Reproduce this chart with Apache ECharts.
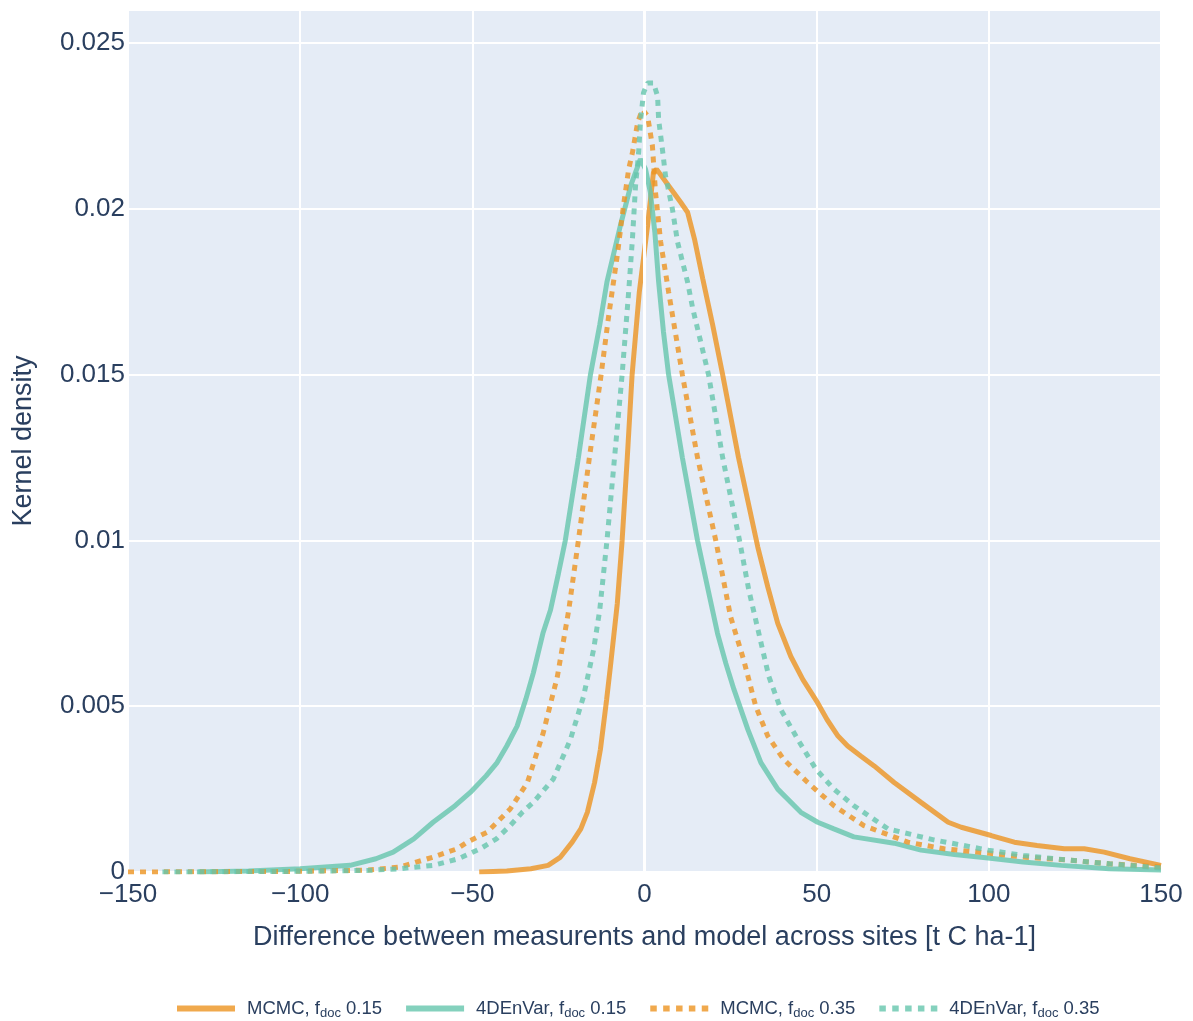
<!DOCTYPE html>
<html>
<head>
<meta charset="utf-8">
<script src="https://cdn.jsdelivr.net/npm/echarts@6/dist/echarts.min.js"></script>
<style>
html, body { margin: 0; padding: 0; background: #fff; }
#chart { width: 1193px; height: 1021px; }
</style>
</head>
<body>
<div id="chart"></div>
<script>
var chart = echarts.init(document.getElementById('chart'));

// KDE curves: [difference, density]
var mcmc015 = [[-48,0],[-40,0.00003],[-33,0.0001],[-28,0.0002],[-24.4,0.00045],[-21,0.0009],[-18.5,0.0013],[-16.6,0.0018],[-14.5,0.0027],[-12.8,0.0037],[-11,0.0052],[-9.9,0.0062],[-7.9,0.0081],[-6.5,0.01],[-5,0.0125],[-3.6,0.015],[-1.5,0.0175],[0.9,0.0195],[2.6,0.0211],[3.5,0.0212],[7,0.0207],[10.5,0.0202],[12.5,0.0199],[14.5,0.0191],[16.9,0.0179],[19.8,0.0165],[22.7,0.015],[27.3,0.0125],[32.9,0.0098],[35.8,0.0086],[38.7,0.0075],[42.5,0.0065],[46,0.0058],[50.3,0.0051],[53,0.0046],[56.2,0.0041],[59,0.0038],[62.8,0.0035],[66.7,0.0032],[72.5,0.0027],[80.3,0.0021],[88.2,0.0015],[92,0.00135],[100.7,0.0011],[107.4,0.0009],[114,0.0008],[121.9,0.0007],[127.7,0.0007],[133.5,0.0006],[141,0.0004],[150,0.0002]];

var envar015 = [[-130,0],[-115,0.00003],[-100,0.0001],[-85.5,0.0002],[-78,0.0004],[-73,0.0006],[-67,0.001],[-61.4,0.0015],[-55,0.002],[-50.6,0.0024],[-46,0.0029],[-42.8,0.0033],[-40,0.0038],[-37,0.0044],[-34.5,0.0052],[-32.3,0.006],[-29.5,0.0072],[-27.3,0.0079],[-25,0.009],[-23,0.01],[-19.2,0.0125],[-15.7,0.015],[-13,0.0165],[-10.9,0.0178],[-7,0.0195],[-4,0.0207],[-1.2,0.0215],[0.3,0.0212],[1.7,0.0205],[3,0.0193],[4.1,0.0178],[5.5,0.0163],[7,0.015],[11,0.0125],[15.4,0.01],[18.5,0.0085],[21.2,0.0072],[23.6,0.0063],[26,0.0055],[30,0.0043],[33.8,0.0033],[38.7,0.0025],[45.4,0.0018],[50.3,0.0015],[55,0.0013],[60.8,0.00106],[72.5,0.00087],[80.3,0.00066],[90,0.00053],[99.8,0.00042],[110,0.0003],[121,0.0002],[135,0.0001],[150,0.00006]];

var mcmc035 = [[-150,0],[-100,0.00002],[-80,0.00006],[-71,0.00015],[-61.4,0.00045],[-54.4,0.0007],[-51.5,0.0009],[-45.7,0.0012],[-42.8,0.0015],[-39,0.0019],[-34,0.0027],[-29.4,0.0042],[-25.3,0.0059],[-22,0.0079],[-19.2,0.01],[-16,0.0125],[-12.6,0.015],[-10.5,0.0167],[-9,0.0178],[-7.9,0.0186],[-6.1,0.0201],[-4.6,0.0212],[-3.5,0.0217],[-2,0.0226],[-0.6,0.023],[0.9,0.0228],[2.3,0.0219],[3.2,0.0205],[4.7,0.019],[7,0.0175],[11,0.015],[15.4,0.0125],[20.7,0.01],[25,0.0077],[28.8,0.0064],[32.3,0.005],[35.8,0.0041],[40.4,0.0034],[47.4,0.0027],[55,0.002],[63.7,0.0014],[76.5,0.0009],[87,0.0007],[99.8,0.00057],[110,0.00045],[123,0.00036],[135,0.00025],[150,0.00015]];

var envar035 = [[-140,0],[-100,0.00002],[-80,0.00005],[-71,0.0001],[-61.4,0.0002],[-54,0.0004],[-47.7,0.0007],[-43,0.001],[-39,0.0014],[-35.5,0.0018],[-32.3,0.0021],[-29,0.0025],[-26.5,0.0028],[-21.5,0.004],[-17.7,0.0053],[-14.8,0.0067],[-13,0.0079],[-10.9,0.01],[-8.7,0.0125],[-6.5,0.015],[-4.6,0.0175],[-3.5,0.0191],[-2.6,0.0207],[-1.7,0.0217],[-1.2,0.0226],[-0.3,0.0235],[0.9,0.0238],[2.6,0.0238],[3.8,0.0234],[4.1,0.0227],[5.2,0.0218],[6.1,0.021],[8.1,0.02],[9.6,0.019],[12.5,0.0178],[14,0.017],[18.6,0.015],[22.7,0.0125],[27.6,0.01],[30.3,0.0085],[33.2,0.0072],[36.1,0.0059],[39.6,0.0049],[44.5,0.004],[49.8,0.0031],[55,0.0025],[60.8,0.002],[70.7,0.0013],[84,0.00097],[99.8,0.00066],[110,0.0005],[123,0.00036],[135,0.00025],[150,0.00012]];

var seriesNames = ['MCMC, fdoc 0.15', '4DEnVar, fdoc 0.15', 'MCMC, fdoc 0.35', '4DEnVar, fdoc 0.35'];
var seriesLabels = ['MCMC, f{sub|doc} 0.15', '4DEnVar, f{sub|doc} 0.15', 'MCMC, f{sub|doc} 0.35', '4DEnVar, f{sub|doc} 0.35'];
var seriesData = [mcmc015, envar015, mcmc035, envar035];
var seriesColors = ['#ec9320', '#65c6ac', '#ec9320', '#65c6ac'];
var seriesDashed = [false, false, true, true];

var font = 'Liberation Sans, Arial, sans-serif';
var ink = '#2a3f5f';
// legend glyph for the dotted lines: five small squares
var dotIcon = 'path://M0,0h6.5v6h-6.5z M12.9,0h6.5v6h-6.5z M25.8,0h6.5v6h-6.5z M38.6,0h6.5v6h-6.5z M51.5,0h6.5v6h-6.5z';

var series = [{
	// thicker white zero line at x = 0
	type: 'line',
	data: [],
	silent: true,
	z: 1,
	markLine: {
		silent: true,
		symbol: 'none',
		label: { show: false },
		lineStyle: { color: '#fff', width: 3, type: 'solid' },
		data: [{ xAxis: 0 }]
	}
}];
var legendData = [];
for (var i = 0; i < seriesData.length; i++) {
	series.push({
		name: seriesNames[i],
		type: 'line',
		data: seriesData[i],
		symbol: 'none',
		smooth: false,
		z: 2 + i,
		color: seriesColors[i],
		lineStyle: {
			color: seriesColors[i],
			width: 5,
			opacity: 0.8,
			type: seriesDashed[i] ? [6, 6] : 'solid'
		}
	});
	legendData.push({
		name: seriesNames[i],
		icon: seriesDashed[i] ? dotIcon : 'rect',
		itemStyle: { color: seriesColors[i], opacity: 0.8, borderWidth: 0 }
	});
}

var option = {
	backgroundColor: '#fff',
	animation: false,
	grid: {
		left: 128,
		right: 32,
		top: 10,
		bottom: 149,
		show: true,
		backgroundColor: '#e5ecf6',
		borderWidth: 0
	},
	legend: {
		data: legendData,
		top: 994,
		left: 172,
		itemWidth: 58,
		itemHeight: 6,
		itemGap: 24,
		formatter: function (name) {
			return seriesLabels[seriesNames.indexOf(name)];
		},
		textStyle: {
			fontFamily: font,
			fontSize: 18.5,
			color: ink,
			padding: [0, 0, 0, 7],
			rich: {
				sub: { fontFamily: font, fontSize: 13, color: ink, padding: [9, 0, 0, 0] }
			}
		}
	},
	xAxis: {
		type: 'value',
		min: -150,
		max: 150,
		interval: 50,
		name: 'Difference between measurents and model across sites [t C ha-1]',
		nameLocation: 'middle',
		nameGap: 52,
		nameTextStyle: { fontFamily: font, fontSize: 27, color: ink },
		axisLine: { show: false },
		axisTick: { show: false },
		axisLabel: {
			fontFamily: font,
			fontSize: 26,
			color: ink,
			margin: 10,
			formatter: function (v) { return String(v).replace('-', '\u2212'); }
		},
		splitLine: { show: true, lineStyle: { color: '#fff', width: 2 } }
	},
	yAxis: {
		type: 'value',
		min: 0,
		max: 0.026,
		interval: 0.005,
		name: 'Kernel density',
		nameLocation: 'middle',
		nameGap: 91,
		nameTextStyle: { fontFamily: font, fontSize: 27, color: ink },
		axisLine: { show: false },
		axisTick: { show: false },
		axisLabel: {
			fontFamily: font,
			fontSize: 26,
			color: ink,
			margin: 3,
			showMaxLabel: false,
			formatter: function (v) { return v === 0 ? '0' : String(+v.toFixed(3)); }
		},
		splitLine: { show: true, lineStyle: { color: '#fff', width: 2 } }
	},
	series: series
};

chart.setOption(option);
</script>
</body>
</html>
